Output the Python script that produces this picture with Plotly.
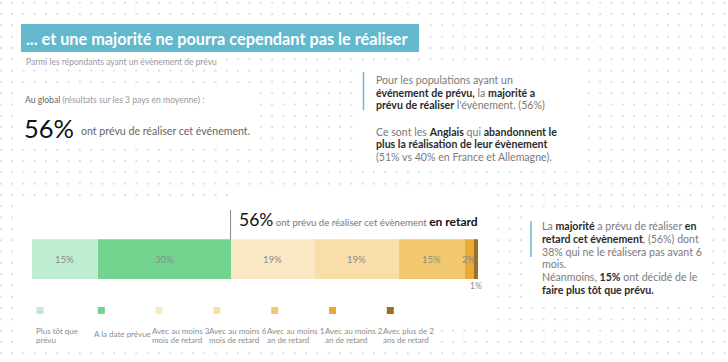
import numpy as np
import plotly.graph_objects as go

# ---- data ----
categories = ["Plus tôt que<br>prévu", "A la date prévue", "Avec au moins 3<br>mois de retard",
              "Avec au moins 6<br>mois de retard", "Avec au moins 1<br>an de retard",
              "Avec au moins 2<br>an de retard", "Avec plus de 2<br>ans de retard"]
values = [15, 30, 19, 19, 15, 2, 1]
colors = ["#BEEDD2", "#72D48F", "#FBE9C6", "#F8DEA8", "#F3C96F", "#E9AA3A", "#9C6E26"]

W, H = 728, 362
FONT = "Lato"
TEAL = "#62B8CD"
GRAY = "#7a7a7a"
DARK = "#2b2b2b"

fig = go.Figure()

# ---- dotted background (decoration), excluded behind white panels ----
panels = [(20, 421, 22, 55), (20, 217, 55, 67), (17, 257, 86, 143), (357, 579, 64, 168),
          (17, 230, 200, 345), (230, 438, 190, 345), (438, 491, 190, 326), (527, 709, 212, 298)]
gx = 0.7 + 11.31 * np.arange(0, 65)
gy = 2.7 + 11.31 * np.arange(0, 33)
XX, YY = np.meshgrid(gx, gy)
XX, YY = XX.ravel(), YY.ravel()
keep = np.ones_like(XX, dtype=bool)
for x0, x1, y0, y1 in panels:
    keep &= ~((XX > x0) & (XX < x1) & (YY > y0) & (YY < y1))
fig.add_trace(go.Scatter(x=XX[keep], y=YY[keep], mode="markers", xaxis="x2", yaxis="y2",
                         marker=dict(symbol="square", size=2, color="#c9e6ef"),
                         hoverinfo="skip", showlegend=False))

# ---- stacked bar ----
for c, v, col in zip(categories, values, colors):
    fig.add_trace(go.Bar(y=[0], x=[v], orientation="h", marker=dict(color=col, line=dict(width=0)),
                         name=c, showlegend=False, hoverinfo="skip"))

cum = np.cumsum([0] + values)
for i, v in enumerate(values):
    mid = (cum[i] + cum[i + 1]) / 2
    if v >= 2:
        fig.add_annotation(x=mid, y=0, xref="x", yref="y", text=f"{v}%", showarrow=False,
                           font=dict(family=FONT, size=9.5, color="#8a8a8a"))
    else:
        fig.add_annotation(x=mid, y=-0.5, xref="x", yref="y", yshift=-7, text=f"{v}%", showarrow=False,
                           font=dict(family=FONT, size=8.5, color="#8a8a8a"))

# ---- title ----
fig.add_shape(type="rect", xref="x2", yref="y2", x0=21, x1=419, y0=24, y1=52,
              fillcolor=TEAL, line=dict(width=0), layer="below")
fig.add_annotation(x=24, y=38, xref="x2", yref="y2", xanchor="left", yanchor="middle",
                   text="<b>... et une majorité ne pourra cependant pas le réaliser</b>",
                   showarrow=False, font=dict(family=FONT, size=16.3, color="white"))
fig.add_annotation(x=24, y=62, xref="x2", yref="y2", xanchor="left", yanchor="middle",
                   text="Parmi les répondants ayant un évènement de prévu",
                   showarrow=False, font=dict(family=FONT, size=8.5, color="#999999"))

# ---- global block ----
fig.add_annotation(x=23, y=100, xref="x2", yref="y2", xanchor="left", yanchor="middle",
                   text="<span style='color:#666'>Au global</span> (résultats sur les 3 pays en moyenne) :",
                   showarrow=False, font=dict(family=FONT, size=8.6, color="#9a9a9a"))
fig.add_annotation(x=22, y=128, xref="x2", yref="y2", xanchor="left", yanchor="middle",
                   text="56%", showarrow=False, font=dict(family=FONT, size=25.5, color="#111"))
fig.add_annotation(x=79, y=131, xref="x2", yref="y2", xanchor="left", yanchor="middle",
                   text="ont prévu de réaliser cet événement.", showarrow=False,
                   font=dict(family=FONT, size=10.6, color="#666"))

def B(s):
    return f"<b><span style='color:{DARK}'>{s}</span></b>"

# ---- top right text ----
fig.add_shape(type="line", xref="x2", yref="y2", x0=363.5, x1=363.5, y0=72, y1=110,
              line=dict(color=TEAL, width=1.5))
tr_lines = [(80, "Pour les populations ayant un"),
            (92.5, B("événement de prévu,") + " la " + B("majorité a")),
            (105, B("prévu de réaliser") + " l'évènement. (56%)"),
            (131.5, "Ce sont les " + B("Anglais") + " qui " + B("abandonnent le")),
            (144, B("plus la réalisation de leur évènement")),
            (156.5, "(51% vs 40% en France et Allemagne).")]
for y, t in tr_lines:
    fig.add_annotation(x=374, y=y, xref="x2", yref="y2", xanchor="left", yanchor="middle",
                       text=t, showarrow=False, font=dict(family=FONT, size=10.6, color=GRAY))

# ---- bottom right text ----
fig.add_shape(type="line", xref="x2", yref="y2", x0=531, x1=531, y0=221, y1=257,
              line=dict(color=TEAL, width=1.5))
br_lines = [(226, "La " + B("majorité") + " a prévu de réaliser " + B("en")),
            (238.5, B("retard cet évènement") + ", (56%) dont"),
            (251.5, "38% qui ne le réalisera pas avant 6"),
            (264, "mois."),
            (277, "Néanmoins, " + B("15%") + " ont décidé de le"),
            (290, B("faire plus tôt que prévu."))]
for y, t in br_lines:
    fig.add_annotation(x=540, y=y, xref="x2", yref="y2", xanchor="left", yanchor="middle",
                       text=t, showarrow=False, font=dict(family=FONT, size=10.6, color=GRAY))

# ---- callout above bar ----
fig.add_shape(type="line", xref="x", yref="y2", x0=cum[2], x1=cum[2], y0=210, y1=239.5,
              line=dict(color="#888", width=1))
fig.add_annotation(x=237, y=219, xref="x2", yref="y2", xanchor="left", yanchor="middle",
                   text="<span style='font-size:17.5px;color:#111'>56%</span> ont prévu de réaliser cet évènement "
                        "<b><span style='font-size:12px;color:#111'>en retard</span></b>",
                   showarrow=False, font=dict(family=FONT, size=9.6, color="#777"))

# ---- custom legend ----
for i, (c, col) in enumerate(zip(categories, colors)):
    lx = 34 + i * 57.8
    sx = lx + (2.5 if i == 0 else 6)
    fig.add_shape(type="rect", xref="x2", yref="y2", x0=sx, x1=sx + 7, y0=307, y1=314,
                  fillcolor=col, line=dict(width=0))
    parts = c.split("<br>")
    ys = [334] if len(parts) == 1 else [330.5, 339.5]
    for t, yy in zip(parts, ys):
        fig.add_annotation(x=lx, y=yy, xref="x2", yref="y2", xanchor="left", yanchor="middle",
                           text=t, align="left", showarrow=False,
                           font=dict(family=FONT, size=8, color="#8c8c8c"))

fig.update_layout(
    width=W, height=H, margin=dict(l=0, r=0, t=0, b=0),
    paper_bgcolor="white", plot_bgcolor="rgba(0,0,0,0)",
    barmode="stack", bargap=0, showlegend=False,
    xaxis=dict(domain=[31.7 / W, 478 / W], range=[0, sum(values)], visible=False, fixedrange=True),
    yaxis=dict(domain=[1 - 279.3 / H, 1 - 239.3 / H], range=[-0.5, 0.5], visible=False, fixedrange=True),
    xaxis2=dict(domain=[0, 1], range=[0, W], visible=False, anchor="y2"),
    yaxis2=dict(domain=[0, 1], range=[H, 0], visible=False, anchor="x2"),
)

fig.write_html("out.html", config={"displayModeBar": False},
               post_script="document.body.style.margin='0';document.body.style.overflow='hidden';")
